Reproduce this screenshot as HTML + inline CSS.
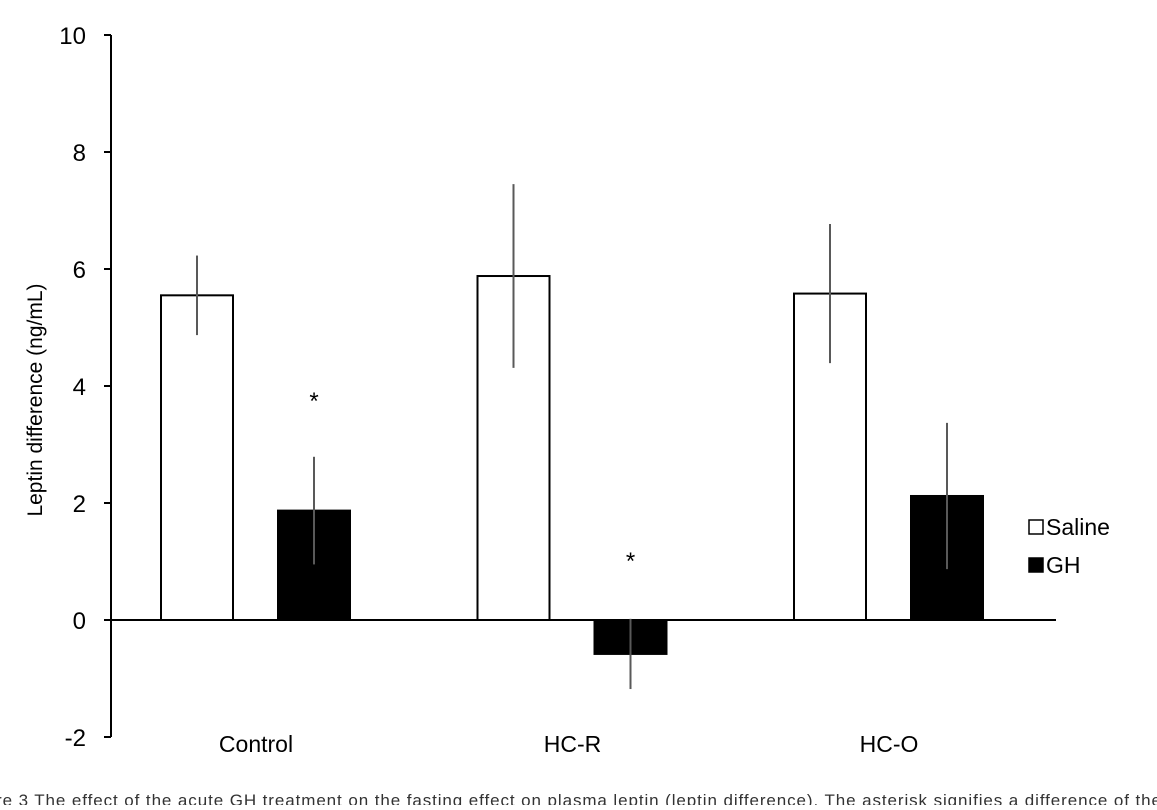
<!DOCTYPE html>
<html><head><meta charset="utf-8"><style>
body{margin:0;background:#fff;width:1157px;height:805px;overflow:hidden;font-family:"Liberation Sans",sans-serif}
</style></head><body>
<svg width="1157" height="805" font-family="Liberation Sans, sans-serif">
<g id="g"></g>
<text x="-4" y="806" font-size="17" fill="#333" textLength="1165">re 3 The effect of the acute GH treatment on the fasting effect on plasma leptin (leptin difference). The asterisk signifies a difference of the</text>
</svg>
<script>
const categories=["Control","HC-R","HC-O"];
const saline=[5.55,5.88,5.58];
const salineErr=[0.68,1.57,1.19];
const gh=[1.87,-0.58,2.12];
const ghErr=[0.92,0.6,1.25];
const sig=[true,true,false];
const yTicks=[-2,0,2,4,6,8,10];
const NS="http://www.w3.org/2000/svg";
const g=document.getElementById('g');
const y=v=>620-v*58.5;
const cx=i=>256+i*316.5;
function mk(t,a,p){const e=document.createElementNS(NS,t);for(const k in a)e.setAttribute(k,a[k]);(p||g).appendChild(e);return e;}
let ax=mk('line',{x1:111,x2:111,y1:y(10),y2:y(-2),stroke:'#000','stroke-width':2});


let xa=mk('line',{x1:111,x2:1056,y1:y(0),y2:y(0),stroke:'#000','stroke-width':2});


yTicks.forEach(t=>{
 let l=mk('line',{x1:104,x2:111,y1:y(t),y2:y(t),stroke:'#000','stroke-width':2});
 
 
 let tx=mk('text',{x:86,y:y(t)+9,'text-anchor':'end','font-size':24});
 tx.textContent=t;
 
 
});
let yt=mk('text',{transform:'translate(42,400) rotate(-90)','text-anchor':'middle','font-size':21});
yt.textContent='Leptin difference (ng/mL)';


categories.forEach((c,i)=>{
 const x0=cx(i);
 [[saline[i],salineErr[i],x0-59,'#fff','saline'],[gh[i],ghErr[i],x0+58,'#000','gh']].forEach(([v,e,bx,f,n])=>{
  let r=mk('rect',{x:bx-36,y:Math.min(y(v),y(0)),width:72,height:Math.abs(y(v)-y(0)),fill:f,stroke:'#000','stroke-width':2});
  
  
  let el=mk('line',{x1:bx,x2:bx,y1:y(v+e),y2:y(v-e),stroke:'#595959','stroke-width':2});
  
  
 });
 if(sig[i]){let s=mk('text',{x:x0+58,y:y(Math.max(gh[i]+ghErr[i],0.05))-48,'text-anchor':'middle','font-size':24});
  s.textContent='*';
  
  }
 let cl=mk('text',{x:x0,y:752,'text-anchor':'middle','font-size':23});
 cl.textContent=c;
 
 
});
[['Saline','#fff',527],['GH','#000',565]].forEach(([n,f,yy])=>{
 let r=mk('rect',{x:1029,y:yy-7,width:14,height:14,fill:f,stroke:'#000','stroke-width':1.5});
 
 
 let t=mk('text',{x:1046,y:yy+8,'font-size':23});
 t.textContent=n;
 
 
});
</script>
</body></html>
